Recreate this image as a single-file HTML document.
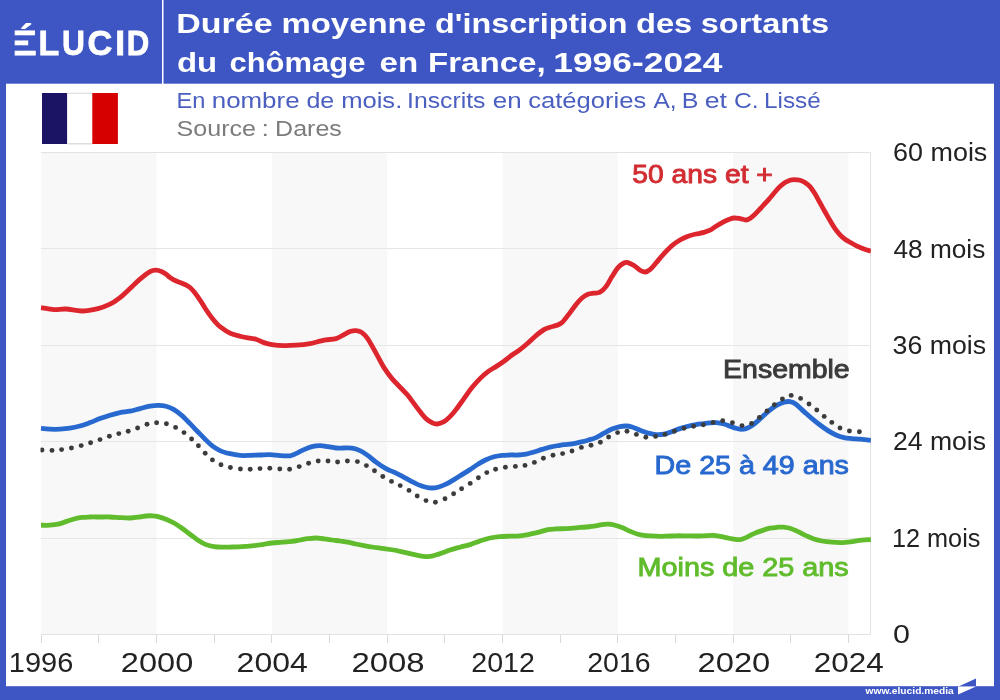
<!DOCTYPE html>
<html lang="fr"><head><meta charset="utf-8"><title>Durée moyenne d'inscription des sortants du chômage en France, 1996-2024</title>
<style>
html,body{margin:0;padding:0;background:#fff}
body{width:1000px;height:700px;overflow:hidden;position:relative}
svg{position:absolute;left:0;top:0;display:block}
text{font-family:"Liberation Sans",sans-serif}
</style></head><body>
<svg width="1000" height="700" viewBox="0 0 1000 700">
<rect x="0" y="0" width="1000" height="700" fill="#3e56c4"/>
<rect x="6" y="83.7" width="988" height="602.5" fill="#fff"/>
<rect x="162" y="0" width="1.5" height="84" fill="#fff"/>
<rect x="41.3" y="152.4" width="115.3" height="482.0" fill="#f8f8f8"/>
<rect x="271.9" y="152.4" width="115.3" height="482.0" fill="#f8f8f8"/>
<rect x="502.5" y="152.4" width="115.3" height="482.0" fill="#f8f8f8"/>
<rect x="733.1" y="152.4" width="115.3" height="482.0" fill="#f8f8f8"/>
<rect x="41.0" y="248" width="829.4" height="1" fill="#e6e6e6"/>
<rect x="41.0" y="345" width="829.4" height="1" fill="#e6e6e6"/>
<rect x="41.0" y="441" width="829.4" height="1" fill="#e6e6e6"/>
<rect x="41.0" y="538" width="829.4" height="1" fill="#e6e6e6"/>
<path d="M41 152.5H870.5V634.5H41" fill="none" stroke="#e2e2e2" stroke-width="1"/>
<rect x="41" y="635" width="1" height="8" fill="#dadada"/>
<rect x="98" y="635" width="1" height="8" fill="#dadada"/>
<rect x="156" y="635" width="1" height="8" fill="#dadada"/>
<rect x="214" y="635" width="1" height="8" fill="#dadada"/>
<rect x="271" y="635" width="1" height="8" fill="#dadada"/>
<rect x="329" y="635" width="1" height="8" fill="#dadada"/>
<rect x="387" y="635" width="1" height="8" fill="#dadada"/>
<rect x="444" y="635" width="1" height="8" fill="#dadada"/>
<rect x="502" y="635" width="1" height="8" fill="#dadada"/>
<rect x="560" y="635" width="1" height="8" fill="#dadada"/>
<rect x="617" y="635" width="1" height="8" fill="#dadada"/>
<rect x="675" y="635" width="1" height="8" fill="#dadada"/>
<rect x="733" y="635" width="1" height="8" fill="#dadada"/>
<rect x="790" y="635" width="1" height="8" fill="#dadada"/>
<rect x="848" y="635" width="1" height="8" fill="#dadada"/>
<clipPath id="cp"><rect x="40.5" y="100" width="830.4" height="560"/></clipPath>
<g clip-path="url(#cp)"><g transform="translate(0,0.6)" fill="none" stroke-linecap="butt" stroke-linejoin="round">
<path d="M41.0 524.6C42.5 524.6 47.2 524.8 50.0 524.6C52.8 524.4 55.3 524.2 58.0 523.6C60.7 523.0 63.3 521.9 66.0 521.0C68.7 520.1 71.3 519.1 74.0 518.4C76.7 517.7 79.3 517.1 82.0 516.8C84.7 516.5 87.0 516.5 90.0 516.4C93.0 516.3 96.7 516.4 100.0 516.4C103.3 516.4 106.7 516.3 110.0 516.4C113.3 516.5 116.7 516.8 120.0 517.0C123.3 517.2 127.0 517.5 130.0 517.4C133.0 517.3 135.3 516.9 138.0 516.6C140.7 516.3 143.7 515.6 146.0 515.4C148.3 515.2 150.0 515.1 152.0 515.2C154.0 515.3 155.7 515.4 158.0 516.0C160.3 516.6 163.3 517.5 166.0 518.6C168.7 519.7 171.3 520.9 174.0 522.4C176.7 523.9 179.3 525.7 182.0 527.6C184.7 529.5 187.3 531.6 190.0 533.6C192.7 535.6 195.3 537.9 198.0 539.6C200.7 541.3 203.3 542.9 206.0 544.0C208.7 545.1 211.3 545.6 214.0 546.0C216.7 546.4 219.0 546.5 222.0 546.6C225.0 546.7 228.7 546.5 232.0 546.4C235.3 546.3 238.7 546.2 242.0 546.0C245.3 545.8 248.7 545.5 252.0 545.2C255.3 544.9 258.7 544.5 262.0 544.0C265.3 543.5 268.7 542.8 272.0 542.4C275.3 542.0 278.7 541.9 282.0 541.6C285.3 541.3 289.0 541.2 292.0 540.8C295.0 540.4 297.3 539.9 300.0 539.4C302.7 538.9 305.3 538.3 308.0 538.0C310.7 537.7 313.3 537.4 316.0 537.4C318.7 537.4 321.3 537.9 324.0 538.2C326.7 538.5 329.3 539.0 332.0 539.4C334.7 539.8 337.3 540.0 340.0 540.4C342.7 540.8 345.3 541.1 348.0 541.6C350.7 542.1 353.3 542.8 356.0 543.4C358.7 544.0 361.3 544.5 364.0 545.0C366.7 545.5 369.3 546.0 372.0 546.4C374.7 546.8 377.0 547.1 380.0 547.5C383.0 547.9 386.7 548.4 390.0 548.9C393.3 549.4 396.7 550.0 400.0 550.7C403.3 551.4 406.7 552.2 410.0 553.0C413.3 553.8 417.3 554.7 420.0 555.2C422.7 555.7 424.0 555.9 426.0 556.0C428.0 556.1 429.7 556.1 432.0 555.6C434.3 555.1 437.0 554.0 440.0 553.0C443.0 552.0 446.7 550.5 450.0 549.4C453.3 548.3 456.7 547.5 460.0 546.6C463.3 545.7 466.7 545.0 470.0 544.0C473.3 543.0 476.7 541.5 480.0 540.4C483.3 539.3 486.7 538.1 490.0 537.4C493.3 536.7 496.7 536.3 500.0 536.0C503.3 535.7 506.7 535.7 510.0 535.6C513.3 535.5 516.7 535.5 520.0 535.2C523.3 534.9 526.7 534.2 530.0 533.6C533.3 533.0 537.0 532.1 540.0 531.3C543.0 530.5 545.3 529.5 548.0 529.0C550.7 528.5 553.0 528.5 556.0 528.3C559.0 528.1 562.7 528.2 566.0 528.0C569.3 527.8 572.7 527.5 576.0 527.2C579.3 526.9 583.0 526.7 586.0 526.4C589.0 526.1 591.3 526.0 594.0 525.6C596.7 525.2 599.7 524.3 602.0 524.0C604.3 523.7 606.0 523.5 608.0 523.6C610.0 523.7 611.7 523.8 614.0 524.4C616.3 525.0 619.3 526.0 622.0 527.0C624.7 528.0 627.3 529.5 630.0 530.6C632.7 531.7 635.3 532.9 638.0 533.6C640.7 534.3 643.0 534.7 646.0 535.0C649.0 535.3 652.7 535.5 656.0 535.6C659.3 535.7 662.7 535.7 666.0 535.6C669.3 535.5 672.7 535.3 676.0 535.2C679.3 535.1 682.7 535.2 686.0 535.2C689.3 535.2 692.7 535.4 696.0 535.4C699.3 535.4 702.7 535.1 706.0 535.0C709.3 534.9 712.7 534.7 716.0 535.0C719.3 535.3 723.0 536.4 726.0 537.0C729.0 537.6 731.7 538.3 734.0 538.6C736.3 538.9 738.0 539.3 740.0 539.0C742.0 538.7 743.7 538.0 746.0 537.0C748.3 536.0 751.3 534.2 754.0 533.0C756.7 531.8 759.3 530.9 762.0 530.0C764.7 529.1 767.3 528.2 770.0 527.6C772.7 527.0 775.7 526.8 778.0 526.6C780.3 526.4 782.0 526.4 784.0 526.6C786.0 526.8 787.7 526.9 790.0 527.6C792.3 528.3 795.3 529.8 798.0 531.0C800.7 532.2 803.3 533.8 806.0 535.0C808.7 536.2 811.3 537.5 814.0 538.4C816.7 539.3 819.0 539.9 822.0 540.4C825.0 540.9 828.7 541.3 832.0 541.6C835.3 541.9 838.7 542.1 842.0 542.0C845.3 541.9 848.7 541.4 852.0 541.0C855.3 540.6 858.8 539.9 862.0 539.6C865.2 539.3 869.5 539.1 871.0 539.0" stroke="#60bc2c" stroke-width="4.8"/>
<path d="M41.0 427.6C42.5 427.8 46.8 428.4 50.0 428.6C53.2 428.8 56.7 428.8 60.0 428.6C63.3 428.4 66.7 428.1 70.0 427.6C73.3 427.1 76.7 426.3 80.0 425.4C83.3 424.5 86.7 423.2 90.0 422.0C93.3 420.8 96.7 419.2 100.0 418.0C103.3 416.8 106.7 415.6 110.0 414.6C113.3 413.6 116.7 412.7 120.0 412.0C123.3 411.3 126.7 411.3 130.0 410.6C133.3 409.9 136.7 408.8 140.0 408.0C143.3 407.2 147.0 406.1 150.0 405.6C153.0 405.1 155.3 404.8 158.0 404.8C160.7 404.8 163.3 404.9 166.0 405.6C168.7 406.3 171.3 407.4 174.0 409.0C176.7 410.6 179.3 412.7 182.0 415.0C184.7 417.3 187.3 420.3 190.0 423.0C192.7 425.7 195.3 428.6 198.0 431.4C200.7 434.1 203.7 437.2 206.0 439.5C208.3 441.8 209.7 443.2 212.0 445.0C214.3 446.8 217.0 448.6 220.0 450.0C223.0 451.4 226.7 452.3 230.0 453.1C233.3 453.9 236.7 454.5 240.0 454.8C243.3 455.1 246.7 454.9 250.0 454.8C253.3 454.7 256.7 454.5 260.0 454.4C263.3 454.3 266.7 453.9 270.0 454.0C273.3 454.1 276.7 454.8 280.0 455.0C283.3 455.2 287.3 455.5 290.0 455.2C292.7 454.9 293.7 454.0 296.0 453.0C298.3 452.0 301.3 450.2 304.0 449.0C306.7 447.8 309.3 446.7 312.0 446.0C314.7 445.3 317.3 445.0 320.0 445.0C322.7 445.0 325.3 445.6 328.0 446.0C330.7 446.4 333.3 447.2 336.0 447.4C338.7 447.6 341.3 447.4 344.0 447.4C346.7 447.4 349.3 447.2 352.0 447.6C354.7 448.0 357.3 448.8 360.0 450.0C362.7 451.2 365.3 453.1 368.0 455.0C370.7 456.9 373.0 459.3 376.0 461.5C379.0 463.7 383.0 466.3 386.0 468.0C389.0 469.7 391.3 470.3 394.0 471.6C396.7 472.9 399.3 474.2 402.0 475.6C404.7 477.0 407.3 478.6 410.0 480.0C412.7 481.4 415.3 482.9 418.0 484.0C420.7 485.1 423.7 486.0 426.0 486.6C428.3 487.2 430.0 487.4 432.0 487.4C434.0 487.4 435.7 487.2 438.0 486.6C440.3 486.0 443.3 484.9 446.0 483.6C448.7 482.3 451.3 480.6 454.0 479.0C456.7 477.4 459.3 475.7 462.0 474.0C464.7 472.3 467.3 470.7 470.0 469.0C472.7 467.3 475.3 465.2 478.0 463.6C480.7 462.0 483.3 460.4 486.0 459.2C488.7 458.0 491.3 456.9 494.0 456.2C496.7 455.5 499.3 455.1 502.0 454.8C504.7 454.5 507.3 454.5 510.0 454.4C512.7 454.3 515.3 454.5 518.0 454.4C520.7 454.3 523.3 454.1 526.0 453.6C528.7 453.1 531.3 452.2 534.0 451.4C536.7 450.6 539.3 449.6 542.0 448.8C544.7 448.0 547.3 447.1 550.0 446.5C552.7 445.9 555.7 445.4 558.0 445.0C560.3 444.6 561.7 444.3 564.0 444.0C566.3 443.7 569.3 443.6 572.0 443.2C574.7 442.8 577.3 442.2 580.0 441.6C582.7 441.0 585.3 440.4 588.0 439.6C590.7 438.8 593.3 438.2 596.0 437.0C598.7 435.8 601.3 434.0 604.0 432.6C606.7 431.2 609.3 429.5 612.0 428.4C614.7 427.3 617.7 426.5 620.0 426.0C622.3 425.5 624.0 425.3 626.0 425.4C628.0 425.5 629.7 425.7 632.0 426.4C634.3 427.1 637.3 428.6 640.0 429.6C642.7 430.6 645.3 431.7 648.0 432.4C650.7 433.1 653.3 433.8 656.0 434.0C658.7 434.2 661.3 434.1 664.0 433.6C666.7 433.1 669.3 431.9 672.0 431.0C674.7 430.1 677.3 428.9 680.0 428.0C682.7 427.1 685.3 426.3 688.0 425.6C690.7 424.9 693.3 424.4 696.0 424.0C698.7 423.6 701.7 423.3 704.0 423.0C706.3 422.7 708.0 422.5 710.0 422.3C712.0 422.1 713.7 421.8 716.0 422.0C718.3 422.2 721.3 422.7 724.0 423.4C726.7 424.1 729.3 425.5 732.0 426.4C734.7 427.3 737.7 428.3 740.0 428.6C742.3 428.9 744.0 428.6 746.0 428.0C748.0 427.4 749.7 426.6 752.0 425.0C754.3 423.4 757.3 420.7 760.0 418.4C762.7 416.1 765.3 413.2 768.0 411.0C770.7 408.8 773.3 406.6 776.0 405.0C778.7 403.4 781.7 402.3 784.0 401.6C786.3 400.9 788.0 400.7 790.0 401.0C792.0 401.3 793.7 401.9 796.0 403.6C798.3 405.3 801.3 408.6 804.0 411.0C806.7 413.4 809.3 415.8 812.0 418.0C814.7 420.2 817.3 422.4 820.0 424.4C822.7 426.4 825.3 428.3 828.0 430.0C830.7 431.7 833.3 433.2 836.0 434.4C838.7 435.6 841.3 436.4 844.0 437.0C846.7 437.6 849.3 437.7 852.0 438.0C854.7 438.3 856.8 438.3 860.0 438.6C863.2 438.9 869.2 439.5 871.0 439.7" stroke="#2869cf" stroke-width="4.8"/>
<path d="M41.0 307.0C43.2 307.3 49.8 308.8 54.0 309.0C58.2 309.2 61.3 308.2 66.0 308.4C70.7 308.6 76.7 310.5 82.0 310.4C87.3 310.3 93.3 309.1 98.0 308.0C102.7 306.9 106.3 305.4 110.0 303.6C113.7 301.8 116.7 299.6 120.0 297.0C123.3 294.4 126.7 291.1 130.0 288.0C133.3 284.9 136.7 281.4 140.0 278.6C143.3 275.8 147.3 272.5 150.0 271.0C152.7 269.5 154.0 269.6 156.0 269.6C158.0 269.6 160.3 270.5 162.0 271.2C163.7 271.9 164.7 272.7 166.0 273.6C167.3 274.6 168.5 275.8 170.0 276.9C171.5 277.9 173.3 279.1 175.0 279.9C176.7 280.7 178.3 281.2 180.0 281.9C181.7 282.6 183.3 283.1 185.0 283.9C186.7 284.7 188.3 285.5 190.0 286.9C191.7 288.3 193.3 290.3 195.0 292.4C196.7 294.5 198.3 296.9 200.0 299.4C201.7 301.9 203.3 304.8 205.0 307.4C206.7 310.0 208.3 312.5 210.0 314.8C211.7 317.1 213.3 319.1 215.0 321.0C216.7 322.9 217.5 324.1 220.0 326.0C222.5 327.9 226.7 330.9 230.0 332.5C233.3 334.1 236.7 334.8 240.0 335.6C243.3 336.5 247.3 337.1 250.0 337.6C252.7 338.1 253.7 337.9 256.0 338.6C258.3 339.3 261.3 341.1 264.0 342.0C266.7 342.9 268.7 343.5 272.0 344.0C275.3 344.5 280.0 344.9 284.0 345.0C288.0 345.1 291.7 344.9 296.0 344.6C300.3 344.3 306.0 343.7 310.0 343.0C314.0 342.3 317.3 341.2 320.0 340.6C322.7 340.0 323.3 339.6 326.0 339.2C328.7 338.8 333.0 338.9 336.0 338.0C339.0 337.1 341.7 335.2 344.0 334.0C346.3 332.8 348.0 331.7 350.0 331.0C352.0 330.3 354.0 329.8 356.0 330.0C358.0 330.2 360.0 330.6 362.0 332.0C364.0 333.4 365.7 335.1 368.0 338.5C370.3 341.9 373.3 347.8 376.0 352.5C378.7 357.2 381.3 362.8 384.0 367.0C386.7 371.2 389.3 374.8 392.0 378.0C394.7 381.2 397.3 383.7 400.0 386.5C402.7 389.3 405.7 392.2 408.0 395.0C410.3 397.8 412.0 400.3 414.0 403.0C416.0 405.7 418.0 408.5 420.0 411.0C422.0 413.5 424.0 416.2 426.0 418.0C428.0 419.8 430.2 421.1 432.0 422.0C433.8 422.9 435.0 423.6 437.0 423.4C439.0 423.2 441.8 422.2 444.0 421.0C446.2 419.8 448.0 418.0 450.0 416.0C452.0 414.0 453.7 412.0 456.0 409.0C458.3 406.0 461.3 401.7 464.0 398.0C466.7 394.3 469.3 390.3 472.0 387.0C474.7 383.7 477.3 380.7 480.0 378.0C482.7 375.3 485.3 373.0 488.0 371.0C490.7 369.0 493.3 367.7 496.0 366.0C498.7 364.3 501.3 362.5 504.0 360.6C506.7 358.7 509.3 356.3 512.0 354.4C514.7 352.5 517.3 351.0 520.0 349.0C522.7 347.0 525.3 344.7 528.0 342.4C530.7 340.1 533.3 337.2 536.0 335.0C538.7 332.8 541.7 330.4 544.0 329.0C546.3 327.6 548.0 327.3 550.0 326.6C552.0 325.9 554.0 325.8 556.0 325.0C558.0 324.2 559.7 324.2 562.0 322.0C564.3 319.8 567.7 315.0 570.0 312.0C572.3 309.0 574.0 306.4 576.0 304.0C578.0 301.6 580.0 299.1 582.0 297.4C584.0 295.7 586.0 294.4 588.0 293.6C590.0 292.8 592.0 292.9 594.0 292.6C596.0 292.3 598.0 292.7 600.0 291.6C602.0 290.5 604.0 288.6 606.0 286.0C608.0 283.4 610.0 279.2 612.0 276.0C614.0 272.8 616.0 269.3 618.0 267.0C620.0 264.7 622.3 263.2 624.0 262.4C625.7 261.6 626.3 261.6 628.0 262.0C629.7 262.4 632.0 263.7 634.0 265.0C636.0 266.3 638.2 268.5 640.0 269.6C641.8 270.7 643.3 271.5 645.0 271.4C646.7 271.3 648.2 270.5 650.0 269.0C651.8 267.5 653.7 265.1 656.0 262.4C658.3 259.7 661.3 255.9 664.0 253.0C666.7 250.1 669.3 247.3 672.0 245.0C674.7 242.7 677.3 241.0 680.0 239.4C682.7 237.8 685.3 236.6 688.0 235.6C690.7 234.6 693.3 234.0 696.0 233.4C698.7 232.8 701.7 232.4 704.0 231.8C706.3 231.2 708.0 230.6 710.0 229.6C712.0 228.6 713.7 227.0 716.0 225.6C718.3 224.2 721.7 222.2 724.0 221.0C726.3 219.8 728.3 219.0 730.0 218.4C731.7 217.8 732.3 217.5 734.0 217.4C735.7 217.3 738.0 217.7 740.0 218.0C742.0 218.3 744.3 219.4 746.0 219.4C747.7 219.4 748.5 218.8 750.0 217.8C751.5 216.8 753.3 215.2 755.0 213.6C756.7 212.0 758.3 210.2 760.0 208.4C761.7 206.6 763.3 204.7 765.0 202.9C766.7 201.1 768.3 199.3 770.0 197.4C771.7 195.5 773.3 193.3 775.0 191.4C776.7 189.5 778.3 187.6 780.0 186.0C781.7 184.4 783.3 183.1 785.0 182.0C786.7 180.9 788.5 180.1 790.0 179.6C791.5 179.1 792.3 179.0 794.0 179.0C795.7 179.0 798.2 179.1 800.0 179.6C801.8 180.1 803.3 180.9 805.0 182.0C806.7 183.1 808.3 184.1 810.0 186.0C811.7 187.9 813.3 190.5 815.0 193.2C816.7 195.9 818.3 199.2 820.0 202.2C821.7 205.2 823.3 208.2 825.0 211.2C826.7 214.2 828.3 217.2 830.0 220.0C831.7 222.8 833.3 225.6 835.0 228.0C836.7 230.4 838.3 232.4 840.0 234.2C841.7 236.0 843.3 237.4 845.0 238.6C846.7 239.8 848.2 240.5 850.0 241.6C851.8 242.7 853.7 243.9 856.0 245.0C858.3 246.1 861.5 247.5 864.0 248.4C866.5 249.3 869.8 250.2 871.0 250.6" stroke="#dc252c" stroke-width="4.8"/>
</g></g>
<g clip-path="url(#cp)"><g fill="#3b3b3b" transform="translate(0,0.6)">
<circle cx="42.0" cy="449.4" r="2.45"/>
<circle cx="52.0" cy="449.8" r="2.45"/>
<circle cx="61.6" cy="449.0" r="2.45"/>
<circle cx="71.4" cy="447.4" r="2.45"/>
<circle cx="81.2" cy="445.0" r="2.45"/>
<circle cx="90.6" cy="442.2" r="2.45"/>
<circle cx="100.0" cy="439.0" r="2.45"/>
<circle cx="109.4" cy="435.6" r="2.45"/>
<circle cx="118.8" cy="433.0" r="2.45"/>
<circle cx="128.2" cy="430.6" r="2.45"/>
<circle cx="137.6" cy="427.4" r="2.45"/>
<circle cx="147.0" cy="423.6" r="2.45"/>
<circle cx="156.6" cy="422.2" r="2.45"/>
<circle cx="166.4" cy="423.2" r="2.45"/>
<circle cx="175.6" cy="426.8" r="2.45"/>
<circle cx="184.0" cy="432.0" r="2.45"/>
<circle cx="191.6" cy="438.4" r="2.45"/>
<circle cx="198.4" cy="445.2" r="2.45"/>
<circle cx="205.2" cy="452.7" r="2.45"/>
<circle cx="212.4" cy="459.3" r="2.45"/>
<circle cx="221.0" cy="464.2" r="2.45"/>
<circle cx="230.4" cy="466.9" r="2.45"/>
<circle cx="240.4" cy="468.4" r="2.45"/>
<circle cx="250.2" cy="468.6" r="2.45"/>
<circle cx="260.0" cy="468.0" r="2.45"/>
<circle cx="269.8" cy="467.6" r="2.45"/>
<circle cx="279.8" cy="468.4" r="2.45"/>
<circle cx="289.6" cy="468.6" r="2.45"/>
<circle cx="299.2" cy="466.0" r="2.45"/>
<circle cx="308.6" cy="462.6" r="2.45"/>
<circle cx="318.2" cy="460.4" r="2.45"/>
<circle cx="328.0" cy="460.4" r="2.45"/>
<circle cx="337.6" cy="461.4" r="2.45"/>
<circle cx="347.4" cy="460.4" r="2.45"/>
<circle cx="357.4" cy="461.0" r="2.45"/>
<circle cx="366.4" cy="465.0" r="2.45"/>
<circle cx="374.5" cy="470.2" r="2.45"/>
<circle cx="382.8" cy="475.9" r="2.45"/>
<circle cx="391.5" cy="480.8" r="2.45"/>
<circle cx="400.2" cy="485.0" r="2.45"/>
<circle cx="409.0" cy="489.8" r="2.45"/>
<circle cx="417.2" cy="495.4" r="2.45"/>
<circle cx="426.0" cy="500.0" r="2.45"/>
<circle cx="435.4" cy="501.6" r="2.45"/>
<circle cx="445.0" cy="498.2" r="2.45"/>
<circle cx="453.6" cy="493.2" r="2.45"/>
<circle cx="461.6" cy="488.2" r="2.45"/>
<circle cx="470.2" cy="482.8" r="2.45"/>
<circle cx="478.4" cy="477.2" r="2.45"/>
<circle cx="486.8" cy="472.0" r="2.45"/>
<circle cx="495.6" cy="468.6" r="2.45"/>
<circle cx="505.4" cy="466.6" r="2.45"/>
<circle cx="515.4" cy="465.8" r="2.45"/>
<circle cx="525.0" cy="464.8" r="2.45"/>
<circle cx="534.4" cy="461.8" r="2.45"/>
<circle cx="543.4" cy="457.7" r="2.45"/>
<circle cx="553.0" cy="454.6" r="2.45"/>
<circle cx="562.6" cy="453.0" r="2.45"/>
<circle cx="572.0" cy="450.4" r="2.45"/>
<circle cx="581.4" cy="446.8" r="2.45"/>
<circle cx="591.0" cy="444.6" r="2.45"/>
<circle cx="600.4" cy="441.6" r="2.45"/>
<circle cx="608.6" cy="436.4" r="2.45"/>
<circle cx="617.6" cy="432.0" r="2.45"/>
<circle cx="627.0" cy="430.6" r="2.45"/>
<circle cx="636.4" cy="433.8" r="2.45"/>
<circle cx="645.8" cy="436.6" r="2.45"/>
<circle cx="655.6" cy="435.8" r="2.45"/>
<circle cx="665.0" cy="433.8" r="2.45"/>
<circle cx="674.4" cy="430.6" r="2.45"/>
<circle cx="684.0" cy="427.6" r="2.45"/>
<circle cx="693.6" cy="425.6" r="2.45"/>
<circle cx="703.3" cy="424.2" r="2.45"/>
<circle cx="713.1" cy="421.8" r="2.45"/>
<circle cx="722.7" cy="420.2" r="2.45"/>
<circle cx="732.4" cy="422.1" r="2.45"/>
<circle cx="742.0" cy="425.0" r="2.45"/>
<circle cx="751.6" cy="422.8" r="2.45"/>
<circle cx="759.4" cy="416.8" r="2.45"/>
<circle cx="767.0" cy="410.4" r="2.45"/>
<circle cx="774.4" cy="404.2" r="2.45"/>
<circle cx="782.4" cy="398.4" r="2.45"/>
<circle cx="791.2" cy="394.8" r="2.45"/>
<circle cx="800.6" cy="397.8" r="2.45"/>
<circle cx="809.0" cy="403.4" r="2.45"/>
<circle cx="816.8" cy="409.4" r="2.45"/>
<circle cx="824.2" cy="415.8" r="2.45"/>
<circle cx="831.8" cy="421.8" r="2.45"/>
<circle cx="840.0" cy="427.4" r="2.45"/>
<circle cx="849.4" cy="430.4" r="2.45"/>
<circle cx="859.4" cy="431.2" r="2.45"/>
</g></g>
<rect x="42" y="93" width="25.3" height="51" fill="#1b1464"/><rect x="67.3" y="93" width="25" height="51" fill="#fff"/><rect x="67.3" y="92.8" width="25" height="0.8" fill="#cfcfcf"/><rect x="67.3" y="143.4" width="25" height="0.9" fill="#c8c8c8"/><rect x="92.3" y="93" width="25.6" height="51" fill="#d60000"/>

<text x="893.12" y="161" font-size="25" fill="#222" textLength="94.22" lengthAdjust="spacingAndGlyphs">60 mois</text>
<text x="893.42" y="257.5" font-size="25" fill="#222" textLength="91.94" lengthAdjust="spacingAndGlyphs">48 mois</text>
<text x="892.58" y="354" font-size="25" fill="#222" textLength="93.56" lengthAdjust="spacingAndGlyphs">36 mois</text>
<text x="892.97" y="450.2" font-size="25" fill="#222" textLength="93.09" lengthAdjust="spacingAndGlyphs">24 mois</text>
<text x="891.9" y="546.8" font-size="25" fill="#222" textLength="88.53" lengthAdjust="spacingAndGlyphs">12 mois</text>
<text x="893.03" y="643.2" font-size="25" fill="#222" textLength="16.95" lengthAdjust="spacingAndGlyphs">0</text>
<text x="8.77" y="671.6" font-size="28" fill="#222" textLength="64.51" lengthAdjust="spacingAndGlyphs">1996</text>
<text x="120.89" y="671.6" font-size="28" fill="#222" textLength="72.41" lengthAdjust="spacingAndGlyphs">2000</text>
<text x="236.61" y="671.6" font-size="28" fill="#222" textLength="71.14" lengthAdjust="spacingAndGlyphs">2004</text>
<text x="351.49" y="671.6" font-size="28" fill="#222" textLength="73.17" lengthAdjust="spacingAndGlyphs">2008</text>
<text x="471.26" y="671.6" font-size="28" fill="#222" textLength="63.56" lengthAdjust="spacingAndGlyphs">2012</text>
<text x="587.28" y="671.6" font-size="28" fill="#222" textLength="63.35" lengthAdjust="spacingAndGlyphs">2016</text>
<text x="697.55" y="671.6" font-size="28" fill="#222" textLength="72.76" lengthAdjust="spacingAndGlyphs">2020</text>
<text x="813.84" y="671.6" font-size="28" fill="#222" textLength="70.04" lengthAdjust="spacingAndGlyphs">2024</text>
<text x="632.38" y="183.4" font-size="26" fill="#d22d32" stroke="#d22d32" stroke-width="0.9" stroke-linejoin="miter" textLength="140.48" lengthAdjust="spacingAndGlyphs">50 ans et +</text>
<text x="723.14" y="377.6" font-size="25.7" fill="#3a3a3a" stroke="#3a3a3a" stroke-width="0.9" stroke-linejoin="miter" textLength="126.59" lengthAdjust="spacingAndGlyphs">Ensemble</text>
<text x="654.56" y="474" font-size="25.7" fill="#2869cf" stroke="#2869cf" stroke-width="0.9" stroke-linejoin="miter" textLength="194.35" lengthAdjust="spacingAndGlyphs">De 25 à 49 ans</text>
<text x="637.51" y="575.6" font-size="25.7" fill="#60bc2c" stroke="#60bc2c" stroke-width="0.9" stroke-linejoin="miter" textLength="211.26" lengthAdjust="spacingAndGlyphs">Moins de 25 ans</text>
<text x="865.55" y="693.5" font-size="9.5" fill="#fff" font-weight="bold" textLength="88.2" lengthAdjust="spacingAndGlyphs">www.elucid.media</text>
<text y="33" font-size="28" fill="#fff" font-weight="bold"><tspan x="176.35" textLength="96.17" lengthAdjust="spacingAndGlyphs">Durée</tspan> <tspan x="281.4" textLength="144.71" lengthAdjust="spacingAndGlyphs">moyenne</tspan> <tspan x="435.09" textLength="192.5" lengthAdjust="spacingAndGlyphs">d'inscription</tspan> <tspan x="636.06" textLength="56.21" lengthAdjust="spacingAndGlyphs">des</tspan> <tspan x="700.75" textLength="128.31" lengthAdjust="spacingAndGlyphs">sortants</tspan></text>
<text y="72" font-size="28" fill="#fff" font-weight="bold"><tspan x="177.01" textLength="40.19" lengthAdjust="spacingAndGlyphs">du</tspan> <tspan x="229.51" textLength="135.85" lengthAdjust="spacingAndGlyphs">chômage</tspan> <tspan x="379.58" textLength="38.6" lengthAdjust="spacingAndGlyphs">en</tspan> <tspan x="428.01" textLength="117.73" lengthAdjust="spacingAndGlyphs">France,</tspan> <tspan x="553.31" textLength="169.1" lengthAdjust="spacingAndGlyphs">1996-2024</tspan></text>
<text y="107.5" font-size="21.5" fill="#4a5fc0"><tspan x="176.48" textLength="28.86" lengthAdjust="spacingAndGlyphs">En</tspan> <tspan x="211.73" textLength="87.86" lengthAdjust="spacingAndGlyphs">nombre</tspan> <tspan x="306.42" textLength="27.8" lengthAdjust="spacingAndGlyphs">de</tspan> <tspan x="341.15" textLength="61.15" lengthAdjust="spacingAndGlyphs">mois.</tspan> <tspan x="407.03" textLength="78.38" lengthAdjust="spacingAndGlyphs">Inscrits</tspan> <tspan x="492.74" textLength="28.85" lengthAdjust="spacingAndGlyphs">en</tspan> <tspan x="528.23" textLength="118.07" lengthAdjust="spacingAndGlyphs">catégories</tspan> <tspan x="653.54" textLength="23.13" lengthAdjust="spacingAndGlyphs">A,</tspan> <tspan x="681.79" textLength="16.7" lengthAdjust="spacingAndGlyphs">B</tspan> <tspan x="704.71" textLength="22.26" lengthAdjust="spacingAndGlyphs">et</tspan> <tspan x="733.92" textLength="24.7" lengthAdjust="spacingAndGlyphs">C.</tspan> <tspan x="764.0" textLength="56.72" lengthAdjust="spacingAndGlyphs">Lissé</tspan></text>
<text y="136" font-size="21.5" fill="#7c7c7c"><tspan x="176.51" textLength="79.48" lengthAdjust="spacingAndGlyphs">Source</tspan> <tspan x="261.61" textLength="7.42" lengthAdjust="spacingAndGlyphs">:</tspan> <tspan x="275.12" textLength="66.71" lengthAdjust="spacingAndGlyphs">Dares</tspan></text>
<text y="54.8" font-size="35" font-weight="bold" fill="#fff" stroke="#fff" stroke-width="0.8"><tspan x="12.86" textLength="23.91" lengthAdjust="spacingAndGlyphs">É</tspan><tspan x="38.44" textLength="20.73" lengthAdjust="spacingAndGlyphs">L</tspan><tspan x="61.93" textLength="22.93" lengthAdjust="spacingAndGlyphs">U</tspan><tspan x="87.45" textLength="24.83" lengthAdjust="spacingAndGlyphs">C</tspan><tspan x="115.16" textLength="9.88" lengthAdjust="spacingAndGlyphs">I</tspan><tspan x="126.68" textLength="22.55" lengthAdjust="spacingAndGlyphs">D</tspan></text>
<g fill="#3e56c4"><rect x="13" y="35.3" width="8.4" height="5.15"/><rect x="13" y="45.3" width="8.4" height="5.4"/><rect x="28.2" y="39.5" width="9" height="6.8"/></g>
<polygon points="959,686.2 976,678.5 976,686.2" fill="#3e56c4"/>
<polygon points="958,686.4 976,686.4 958,694.6" fill="#fff"/>

</svg></body></html>
